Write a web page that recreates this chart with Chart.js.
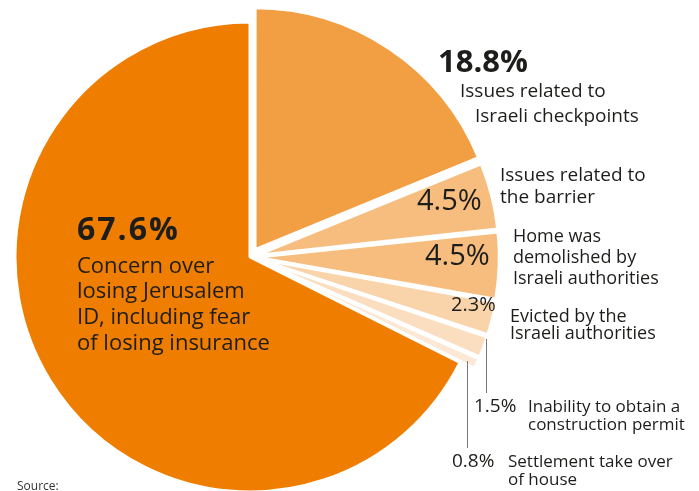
<!DOCTYPE html>
<html>
<head>
<meta charset="utf-8">
<script src="https://cdn.jsdelivr.net/npm/chart.js@4/dist/chart.umd.min.js"></script>
<style>
  html, body { margin: 0; padding: 0; background: #fff; }
  #wrap { width: 699px; height: 491px; position: relative; }
</style>
</head>
<body>
<div id="wrap"><canvas id="myChart"></canvas></div>
<script>
// data, clockwise from 12 o'clock
const categories = [
  "Issues related to Israeli checkpoints",
  "Issues related to the barrier",
  "Home was demolished by Israeli authorities",
  "Evicted by the Israeli authorities",
  "Inability to obtain a construction permit",
  "Settlement take over of house",
  "Concern over losing Jerusalem ID, including fear of losing insurance"
];
const values = [18.8, 4.5, 4.5, 2.3, 1.5, 0.8, 67.6];
const labelLines = [
  ["Issues related to", "Israeli checkpoints"],
  ["Issues related to", "the barrier"],
  ["Home was", "demolished by", "Israeli authorities"],
  ["Evicted by the", "Israeli authorities"],
  ["Inability to obtain a", "construction permit"],
  ["Settlement take over", "of house"],
  ["Concern over", "losing Jerusalem", "ID, including fear", "of losing insurance"]
];

const sliceColors = ["#F29E42", "#F6BD7E", "#F6BD7E", "#F9D3AA", "#FBDDBF", "#FCE8D5", "#EF7D00"];
// pulled-out slices: offset (chart.js moves by offset/4) and extra radius
const explode = [36, 24, 24, 24, 24, 24, 0];
const grow = [6, 4, 4, 4, 4, 4, 0];

// where each label sits: percent [x, baseline, size, bold, spacing], text lines [x, baseline], text size
const labelPos = [
  { pct: [438, 72, 31, true, 0], lines: [[460, 97], [475, 122]], size: 19 },
  { pct: [417, 210, 29, false, 0], lines: [[500, 181], [500, 203]], size: 19 },
  { pct: [425, 265, 29, false, 0], lines: [[513, 242], [513, 263], [513, 284]], size: 18 },
  { pct: [451, 311, 20, false, 0], lines: [[510, 322], [510, 339]], size: 18 },
  { pct: [474, 412, 19, false, 0], lines: [[528, 412], [528, 430]], size: 17 },
  { pct: [452, 467, 19, false, 0], lines: [[508, 467], [508, 485]], size: 17 },
  { pct: [77, 240, 32, true, 2], lines: [[77, 273], [77, 298], [77, 324], [77, 350]], size: 22 }
];
const leaders = [[486, 339, 486, 393], [467, 361, 467, 448]];

const FONT = '"Open Sans", "Noto Sans", sans-serif';

const growPlugin = {
  id: "sliceRadius",
  afterDatasetsUpdate(chart) {
    chart.getDatasetMeta(0).data.forEach((arc, i) => {
      arc.outerRadius += grow[i];
    });
  }
};

const labelPlugin = {
  id: "pieLabels",
  afterDraw(chart) {
    const ctx = chart.ctx;
    ctx.save();
    ctx.textAlign = "left";
    ctx.textBaseline = "alphabetic";
    ctx.fillStyle = "#1d1d1b";
    values.forEach((v, i) => {
      const p = labelPos[i];
      ctx.font = (p.pct[3] ? "bold " : "") + p.pct[2] + "px " + FONT;
      ctx.letterSpacing = p.pct[4] + "px";
      ctx.fillText(v.toFixed(1) + "%", p.pct[0], p.pct[1]);
      ctx.letterSpacing = "0px";
      ctx.font = p.size + "px " + FONT;
      labelLines[i].forEach((line, j) => {
        ctx.fillText(line, p.lines[j][0], p.lines[j][1]);
      });
    });
    ctx.strokeStyle = "#777";
    ctx.lineWidth = 1;
    leaders.forEach((l) => {
      ctx.beginPath();
      ctx.moveTo(l[0] + 0.5, l[1]);
      ctx.lineTo(l[2] + 0.5, l[3]);
      ctx.stroke();
    });
    ctx.font = "12px " + FONT;
    ctx.fillStyle = "#333";
    ctx.fillText("Source:", 17, 490);
    ctx.restore();
  }
};

const ctx = document.getElementById("myChart");

new Chart(ctx, {
  type: "pie",
  data: {
    labels: categories,
    datasets: [
      {
        data: values,
        backgroundColor: sliceColors,
        borderColor: "#ffffff",
        borderWidth: 3,
        offset: explode,
        clip: false,
      },
    ],
  },
  options: {
    responsive: true,
    maintainAspectRatio: false,
    animation: false,
    radius: 235,
    layout: {
      padding: { left: 0, right: 199, top: 23, bottom: 0 },
    },
    plugins: {
      legend: { display: false },
      tooltip: { enabled: false },
    },
  },
  plugins: [growPlugin, labelPlugin],
});
</script>
</body>
</html>
